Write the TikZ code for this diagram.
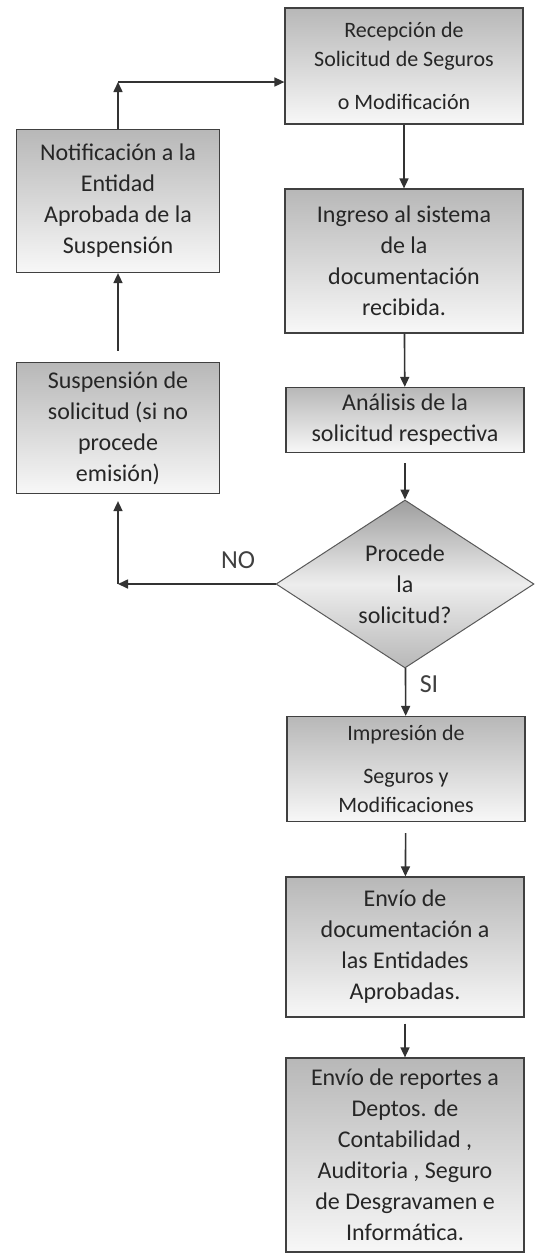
\documentclass[tikz,border=0pt]{standalone}
\usepackage{fontspec}
\setmainfont{Carlito}
\usetikzlibrary{shapes.geometric,arrows.meta}

\begin{document}
\begin{tikzpicture}[x=0.5pt,y=-0.5pt,
    box/.style={draw=black!75, line width=0.6pt, top color=black!28, bottom color=black!3,
      text=black!85, align=center, inner sep=2pt, font=\fontsize{12}{15.5}\selectfont},
    rbox/.style={box, minimum width=119pt},
    lbox/.style={box, minimum width=101.5pt},
    decision/.style={diamond, draw=black!65, line width=0.5pt, top color=black!38, bottom color=black!28,
      middle color=black!7, text=black!85, align=center, inner sep=0pt, aspect=1.54,
      minimum width=129pt, minimum height=84pt, font=\fontsize{12}{15.5}\selectfont},
    arr/.style={-{Triangle[length=5pt,width=4.5pt]}, line width=0.8pt, draw=black!80},
    lbl/.style={text=black!75, font=\fontsize{13}{15}\selectfont}]
  \useasboundingbox (0,0) rectangle (538,1255);

  % main column
  \node[rbox, minimum height=58pt, font=\fontsize{11}{14.5}\selectfont] (recep) at (404,66)
    {Recepción de\\Solicitud de Seguros\\[7pt]o Modificación};
  \node[rbox, minimum height=72pt] (ingreso) at (404,261)
    {Ingreso al sistema\\de la\\documentación\\recibida.};
  \node[rbox, minimum height=32.5pt] (analisis) at (405,420)
    {Análisis de la\\solicitud respectiva};
  \node[decision] (dec) at (405,584) {Procede\\la\\solicitud?};
  \node[rbox, minimum height=52.5pt, font=\fontsize{11}{14.5}\selectfont] (impresion) at (406,769)
    {Impresión de\\[7pt]Seguros y\\Modificaciones};
  \node[rbox, minimum height=70pt] (envio) at (405,947)
    {Envío de\\documentación a\\las Entidades\\Aprobadas.};
  \node[rbox, minimum height=97pt] (reportes) at (405,1155)
    {Envío de reportes a\\Deptos. de\\Contabilidad ,\\Auditoria , Seguro\\de Desgravamen e\\Informática.};

  % left column
  \node[lbox, minimum height=71.5pt] (notif) at (118,201)
    {Notificación a la\\Entidad\\Aprobada de la\\Suspensión};
  \node[lbox, minimum height=65.5pt] (susp) at (118,428)
    {Suspensión de\\solicitud (si no\\procede\\emisión)};

  \node[lbl] (no) at (238,560) {NO};
  \node[lbl] (si) at (429,684) {SI};

  \coordinate (rin) at ([yshift=-8pt]recep.west);
  \coordinate (topc) at (notif.north |- rin);
  \coordinate (noc) at (susp.south |- dec.west);

  \draw[arr] (recep) -- (ingreso);
  \draw[arr] (ingreso) -- (analisis);
  \draw[arr, shorten <=5pt] (analisis) -- (dec);
  \draw[arr] (dec) -- (impresion);
  \draw[arr, shorten <=5.5pt] (impresion) -- (envio);
  \draw[arr, shorten <=3pt] (envio) -- (reportes);
  \draw[arr] (dec.west) -- (noc);
  \draw[arr, shorten >=3.5pt] (noc) -- (susp.south);
  \draw[arr, shorten <=5.5pt] (susp) -- (notif);
  \draw[arr] (notif.north) -- (topc);
  \draw[arr] (topc) -- (rin);
\end{tikzpicture}
\end{document}
